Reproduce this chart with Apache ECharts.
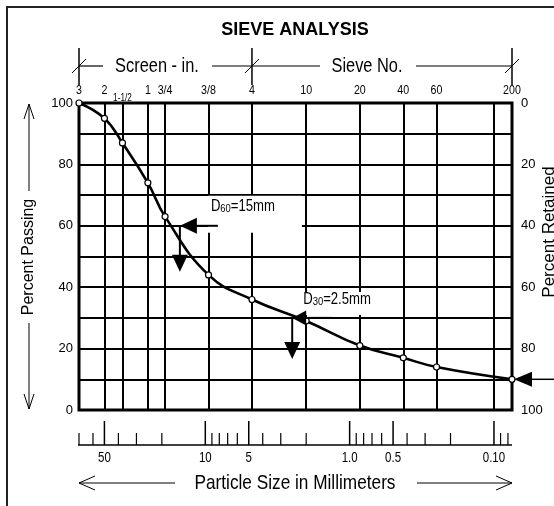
<!DOCTYPE html>
<html>
<head>
<meta charset="utf-8">
<title>Sieve Analysis</title>
<script src="https://cdn.jsdelivr.net/npm/echarts@6/dist/echarts.min.js"></script>
<style>
  html, body { margin: 0; padding: 0; background: #fff; }
  #chart { width: 554px; height: 506px; }
</style>
</head>
<body>
<div id="chart"></div>
<script>
// Sieve stack (screen sizes in inches, then US sieve numbers) and the measured gradation
const sieveLabels = ['3', '2', '1-1/2', '1', '3/4', '3/8', '4', '10', '20', '40', '60', '200'];
const sieveSizesMm = [75, 50, 37.5, 25, 19, 9.5, 4.75, 2.0, 0.85, 0.425, 0.25, 0.075];
const percentPassing = [100, 95, 87, 74, 63, 44, 36, 29, 21, 17, 14, 10];

// Vertical rulings of the chart paper (mm)
const gridLinesMm = [50, 37.5, 25, 19, 9.5, 4.75, 2.0, 0.85, 0.425, 0.25, 0.1];

// Millimetre scale under the plot
const mmMajorTicks = [50, 10, 5, 1, 0.5, 0.1];
const mmMajorLabels = ['50', '10', '5', '1.0', '0.5', '0.10'];
const mmMinorTicks = [75, 60, 40, 30, 20, 9, 8, 7, 6, 4, 3, 2, 0.9, 0.8, 0.7, 0.6, 0.4, 0.3, 0.2, 0.09, 0.08];

// Percent values that carry a label (passing on the left, retained on the right)
const percentLabels = [0, 20, 40, 60, 80, 100];

// Range boundaries: 3 in. screen | No. 4 sieve | No. 200 sieve
const rangeBoundsMm = [75, 4.75, 0.075];

// Characteristic diameters D60 and D30
const dNames = ['60', '30'];
const dSizesMm = [15, 2.5];
const dPercents = [60, 30];

// Fines fraction: percent passing the No. 200 sieve
const finesSizeMm = 0.075;
const finesPercent = 10;

// ---- fonts -------------------------------------------------------------
// A narrow face is used for most lettering; without one, the regular face is squeezed horizontally.
function fontAvailable(name) {
  const ctx = document.createElement('canvas').getContext('2d');
  const probe = 'Percent Passing 0123456789';
  ctx.font = '40px monospace';
  const a = ctx.measureText(probe).width;
  ctx.font = '40px "' + name + '", monospace';
  return ctx.measureText(probe).width !== a;
}
const NARROW = fontAvailable('Liberation Sans Narrow');
const plainFamily = '"Liberation Sans", Arial, sans-serif';
const condFamily = NARROW ? '"Liberation Sans Narrow", "Liberation Sans", sans-serif' : plainFamily;
const squeeze = NARROW ? 1 : 0.82;

// ---- chart -------------------------------------------------------------
const percentLabelFmt = v => (percentLabels.includes(v) ? String(v) : '');

const option = {
  animation: false,
  backgroundColor: '#ffffff',
  grid: {
    left: 79, right: 42, top: 103, bottom: 96,
    show: true, borderColor: '#000', borderWidth: 3, backgroundColor: 'rgba(0,0,0,0)'
  },
  xAxis: [{
    type: 'log', logBase: 10, min: 0.075, max: 75, inverse: true, position: 'top',
    axisLine: { show: false }, axisTick: { show: false },
    axisLabel: { show: false }, splitLine: { show: false }
  }],
  yAxis: [
    {
      type: 'value', min: 0, max: 100, interval: 10, position: 'left',
      axisLine: { show: false }, axisTick: { show: false },
      splitLine: { show: true, lineStyle: { color: '#000', width: 2 } },
      axisLabel: { margin: 6, color: '#000', fontFamily: plainFamily, fontSize: 13, formatter: percentLabelFmt }
    },
    {
      type: 'value', min: 0, max: 100, interval: 10, inverse: true, position: 'right',
      axisLine: { show: false }, axisTick: { show: false }, splitLine: { show: false },
      axisLabel: { margin: 9, color: '#000', fontFamily: plainFamily, fontSize: 13, formatter: percentLabelFmt }
    }
  ],
  series: [{
    type: 'line',
    name: 'Percent passing',
    xAxisIndex: 0, yAxisIndex: 0,
    data: sieveSizesMm.map((s, i) => [s, percentPassing[i]]),
    smooth: 0.45,
    clip: false,
    z: 3,
    symbol: 'circle', symbolSize: 6, showAllSymbol: true,
    itemStyle: { color: '#fff', borderColor: '#000', borderWidth: 1.2 },
    lineStyle: { color: '#000', width: 2.6 },
    emphasis: { disabled: true },
    markLine: {
      silent: true, z: 1, symbol: ['none', 'none'],
      label: { show: false },
      emphasis: { disabled: true },
      lineStyle: { color: '#000', width: 2, type: 'solid' },
      data: gridLinesMm.map(v => ({ xAxis: v }))
    }
  }]
};

const chart = echarts.init(document.getElementById('chart'), null, { renderer: 'canvas' });
chart.setOption(option);

// ---- decorations placed through the axis scales -----------------------
const toPx = (mm, pct) => chart.convertToPixel({ xAxisIndex: 0, yAxisIndex: 0 }, [mm, pct]);
const xOf = mm => chart.convertToPixel({ xAxisIndex: 0 }, mm);
const yOf = pct => chart.convertToPixel({ yAxisIndex: 0 }, pct);

const g = [];
function seg(x1, y1, x2, y2, w, z) {
  g.push({ type: 'line', silent: true, z: z || 10, shape: { x1, y1, x2, y2 },
           style: { stroke: '#000', lineWidth: w || 1 } });
}
function tri(points, z) {
  g.push({ type: 'polygon', silent: true, z: z || 12, shape: { points }, style: { fill: '#000' } });
}
function vee(points, w) {
  g.push({ type: 'polyline', silent: true, z: 10, shape: { points },
           style: { stroke: '#000', fill: null, lineWidth: w || 1 } });
}
function label(str, x, y, size, opts) {
  opts = opts || {};
  const el = { type: 'text', silent: true, z: opts.z || 10, x, y,
    style: Object.assign({ text: str, fill: '#000', fontSize: size,
                           fontFamily: opts.plain ? plainFamily : condFamily,
                           align: 'center', verticalAlign: 'middle' }, opts.style || {}) };
  if (!opts.plain && squeeze !== 1) el.scaleX = squeeze;
  if (opts.rotation) el.rotation = opts.rotation;
  g.push(el);
}

// outer frame
g.push({ type: 'rect', silent: true, z: 0, shape: { x: 7, y: 7, width: 700, height: 700 },
         style: { fill: null, stroke: '#222', lineWidth: 2 } });

// title
label('SIEVE ANALYSIS', 295, 30, 18, { plain: true, style: { fontWeight: 'bold' } });

// range header: Screen - in. | Sieve No.
const hdrY = 66;
const bx = rangeBoundsMm.map(xOf);
bx.forEach(x => { seg(x, 48, x, 85, 1.5); seg(x - 7, 73, x + 7, 59, 1); });
seg(bx[0], hdrY, 103, hdrY, 1.2);
seg(212, hdrY, 320, hdrY, 1.2);
seg(416, hdrY, bx[2], hdrY, 1.2);
label('Screen - in.', 157, hdrY, 20);
label('Sieve No.', 367, hdrY, 20);

// sieve designations above the plot
sieveSizesMm.forEach((s, i) => {
  const small = sieveLabels[i].indexOf('-') >= 0;
  label(sieveLabels[i], xOf(s), small ? 98.5 : 90.5, small ? 10 : 13);
});

// millimetre scale
const scaleY = 445;
const plotL = xOf(75), plotR = xOf(0.075);
seg(plotL - 1, scaleY, plotR, scaleY, 1.5);
mmMajorTicks.forEach((v, i) => {
  const x = xOf(v);
  seg(x, scaleY, x, scaleY - 24, 1.5);
  label(mmMajorLabels[i], x, 458.5, 14);
});
mmMinorTicks.forEach(v => { const x = xOf(v); seg(x, scaleY, x, scaleY - 12, 1.2); });

// Particle Size in Millimeters, with arrows
const arY = 483;
seg(plotL, arY, 175, arY, 1);
vee([[plotL + 16, arY - 7], [plotL, arY], [plotL + 16, arY + 7]]);
seg(417, arY, plotR, arY, 1);
vee([[plotR - 16, arY - 7], [plotR, arY], [plotR - 16, arY + 7]]);
label('Particle Size in Millimeters', 295, arY, 21);

// Percent Passing (left) with arrows
const pTop = yOf(100), pBot = yOf(0);
const axX = 29;
label('Percent Passing', axX, 257, 16, { plain: true, rotation: Math.PI / 2 });
seg(axX, pTop + 1, axX, 191, 1);
vee([[axX - 5, pTop + 16], [axX, pTop + 1], [axX + 5, pTop + 16]]);
seg(axX, 323, axX, pBot - 1, 1);
vee([[axX - 5, pBot - 16], [axX, pBot - 1], [axX + 5, pBot - 16]]);

// Percent Retained (right)
label('Percent Retained', 549, 232, 17, { plain: true, rotation: Math.PI / 2 });

// D60 / D30 call-outs
const dLayout = [
  { box: [28, -30, 94, 37], txt: [31, -28], head: 17, half: 8, shaft: 21, drop: 29, dropHead: 17 },
  { box: [5, -26, 75, 23], txt: [11, -27], head: 14, half: 7.5, shaft: 26, drop: 24, dropHead: 17 }
];
dSizesMm.forEach((d, i) => {
  const [px, py] = toPx(d, dPercents[i]);
  const L = dLayout[i];
  g.push({ type: 'rect', silent: true, z: 5,
           shape: { x: px + L.box[0], y: py + L.box[1], width: L.box[2], height: L.box[3] },
           style: { fill: '#fff' } });
  const txt = { type: 'text', silent: true, z: 11, x: px + L.txt[0], y: py + L.txt[1],
    style: {
      text: '{m|D}{s|' + dNames[i] + '}{m|=' + d + 'mm}',
      align: 'left', verticalAlign: 'top', fill: '#000',
      rich: {
        m: { fontSize: 16, fontFamily: condFamily, lineHeight: 17, fill: '#000' },
        s: { fontSize: 11.5, fontFamily: condFamily, lineHeight: 10, verticalAlign: 'bottom', fill: '#000' }
      }
    } };
  if (squeeze !== 1) txt.scaleX = squeeze;
  g.push(txt);
  // arrow pointing left onto the curve
  tri([[px, py], [px + L.head, py - L.half], [px + L.head, py + L.half]]);
  seg(px + L.head - 1, py, px + L.head + L.shaft, py, 2, 11);
  // arrow dropping toward the size axis
  seg(px, py, px, py + L.drop + 1, 2, 11);
  tri([[px - 8, py + L.drop], [px + 8, py + L.drop], [px, py + L.drop + L.dropHead]]);
});

// fines arrow at the No. 200 sieve
(function () {
  const [px, py] = toPx(finesSizeMm, finesPercent);
  tri([[px + 2, py], [px + 20, py - 7.5], [px + 20, py + 7.5]]);
  seg(px + 19, py, 560, py, 1.5, 11);
})();

chart.setOption({ graphic: { elements: g } });
</script>
</body>
</html>
